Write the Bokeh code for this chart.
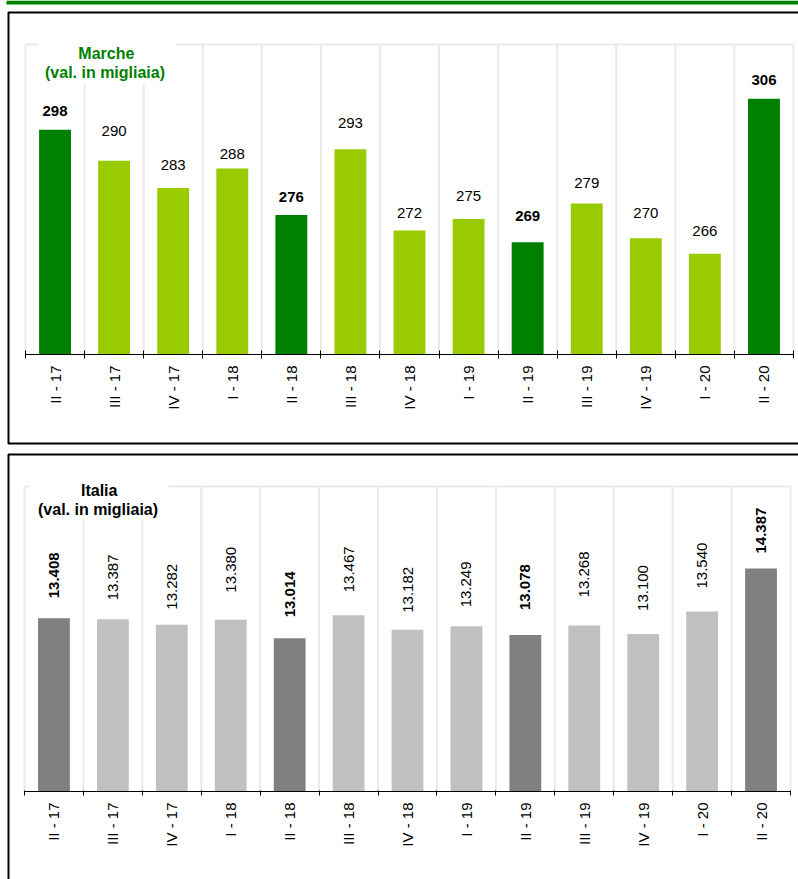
import numpy as np
from bokeh.plotting import figure
from bokeh.models import (ColumnDataSource, FixedTicker, LinearAxis, Range1d,
                          BoxAnnotation, Label)
from bokeh.layouts import column
from bokeh.embed import file_html
from bokeh.resources import INLINE
from bokeh.core.properties import value

# ---------------- data ----------------
quarters = ["II - 17", "III - 17", "IV - 17", "I - 18", "II - 18", "III - 18", "IV - 18",
            "I - 19", "II - 19", "III - 19", "IV - 19", "I - 20", "II - 20"]
marche = [298, 290, 283, 288, 276, 293, 272, 275, 269, 279, 270, 266, 306]          # migliaia
italia = [13408, 13387, 13282, 13380, 13014, 13467, 13182, 13249, 13078, 13268,
          13100, 13540, 14387]                                                    # migliaia

# label placement (pixel offsets above the bar top) - layout only
marche_label_dy = [-19, -30, -23, -15, -18, -26, -18, -23, -26, -20, -25, -23, -19]
italia_label_dy = [-20, -19, -15, -27, -21, -23, -17, -19, -25, -28, -23, -23, -15]

FONT = "Liberation Sans"
W = 798


def fmt_it(v):
    return f"{v:,}".replace(",", ".")


def canvas_box(**kw):
    return BoxAnnotation(left_units="canvas", right_units="canvas",
                         top_units="canvas", bottom_units="canvas", **kw)


def make_panel(values, labels, dy, y0, y1, dark, light, title_color, title_name,
               height, plot_left, plot_right, plot_top, plot_bottom, tick_in,
               border_top, border_bottom, rotated, title_box, title_pos, strip=False):
    n = len(quarters)
    xs = np.arange(n) + 0.5
    bounds = np.arange(n + 1)
    highlight = [q.startswith("II ") for q in quarters]
    colors = [dark if h else light for h in highlight]
    styles = ["bold" if h else "normal" for h in highlight]

    # ranges chosen so that the plot area lands on the wanted pixels of the canvas
    xpx = (plot_right - plot_left) / n
    ypx = (plot_bottom - plot_top) / (y1 - y0)
    x_range = Range1d(-plot_left / xpx, n + (W - plot_right) / xpx)
    y_range = Range1d(y0 - (height - plot_bottom) / ypx, y1 + plot_top / ypx)

    p = figure(width=W, height=height, x_range=x_range, y_range=y_range,
               output_backend="svg", toolbar_location=None, title=None,
               x_axis_type=None, y_axis_type=None, min_border=0)
    p.outline_line_color = None
    p.background_fill_color = "white"
    p.border_fill_color = "white"
    p.xgrid.visible = False
    p.ygrid.visible = False

    grid_color = "#EAEAEA"
    # plot-area grid lines (category boundaries + top edge)
    p.segment(x0=bounds, y0=y0, x1=bounds, y1=y1, line_color=grid_color, line_width=2)
    p.segment(x0=[0], y0=[y1], x1=[n], y1=[y1], line_color=grid_color, line_width=2)

    src = ColumnDataSource(dict(x=xs, top=values, color=colors, label=labels,
                                style=styles, dy=dy))
    p.vbar(x="x", top="top", bottom=y0, width=0.54, fill_color="color",
           line_color=None, source=src)

    if rotated:
        p.text(x="x", y="top", text="label", source=src, y_offset="dy",
               angle=np.pi / 2, text_align="left", text_baseline="middle",
               text_font=value(FONT), text_font_size="15px",
               text_font_style="style", text_color="black")
    else:
        p.text(x="x", y="top", text="label", source=src, y_offset="dy",
               text_align="center", text_baseline="middle",
               text_font=value(FONT), text_font_size="15px",
               text_font_style="style", text_color="black")

    ax = LinearAxis(ticker=FixedTicker(ticks=list(xs), minor_ticks=list(bounds)),
                    fixed_location=y0, bounds=(0, n),
                    major_label_overrides={float(x): q for x, q in zip(xs, quarters)},
                    major_label_orientation=np.pi / 2,
                    major_tick_in=0, major_tick_out=4, major_tick_line_color=None,
                    minor_tick_in=tick_in, minor_tick_out=4,
                    minor_tick_line_color="black", axis_line_color="black",
                    axis_line_width=1,
                    major_label_standoff=7,
                    major_label_text_font=FONT, major_label_text_font_size="15px",
                    major_label_text_color="black")
    p.add_layout(ax, "below")

    # title with white backing box
    l, r, b, t = title_box
    p.add_layout(BoxAnnotation(left=l, right=r, top=t, bottom=b, fill_color="white",
                               fill_alpha=1, line_color=None))
    (tx1, ty1), (tx2, ty2) = title_pos
    p.add_layout(Label(x=tx1, y=ty1, text=title_name, text_font=FONT,
                       text_font_size="16px", text_font_style="bold",
                       text_color=title_color, text_align="center",
                       text_baseline="middle"))
    p.add_layout(Label(x=tx2, y=ty2, text="(val. in migliaia)", text_font=FONT,
                       text_font_size="16px", text_font_style="bold",
                       text_color=title_color, text_align="center",
                       text_baseline="middle"))

    # panel frame (black border, right side lies outside the window)
    p.add_layout(canvas_box(left=8, right=W + 10, top=border_top, bottom=border_bottom,
                            fill_alpha=0, line_color="black", line_alpha=1,
                            line_width=2, level="overlay"))
    if strip:
        p.add_layout(canvas_box(left=6, right=W + 10, top=0, bottom=4,
                                fill_color="#008000", fill_alpha=1, line_color=None,
                                level="overlay"))
    return p


p1 = make_panel(marche, [str(v) for v in marche], marche_label_dy, 240, 320,
                "#008000", "#99CC00", "#008000", "Marche",
                height=449, plot_left=25, plot_right=793, plot_top=44, plot_bottom=354,
                tick_in=4, border_top=12, border_bottom=443, rotated=False,
                title_box=(0.22, 2.54, 309.9, 320.6),
                title_pos=((1.368, 317.75), (1.346, 312.85)), strip=True)

p2 = make_panel(italia, [fmt_it(v) for v in italia], italia_label_dy, 10000, 16000,
                "#808080", "#C0C0C0", "black", "Italia",
                height=430, plot_left=24, plot_right=790, plot_top=37, plot_bottom=342,
                tick_in=1, border_top=5, border_bottom=500, rotated=True,
                title_box=(0.085, 2.445, 15350, 16040),
                title_pos=((1.268, 15921), (1.248, 15542)))

layout = column(p1, p2, spacing=0)

with open("out.html", "w") as f:
    f.write(file_html(layout, INLINE))
